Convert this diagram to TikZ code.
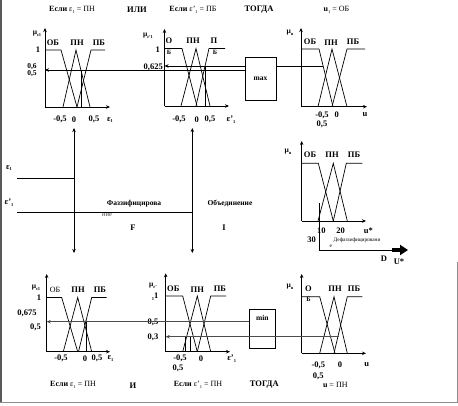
\documentclass[tikz,border=0pt]{standalone}
\usepackage{fontspec}
\setmainfont{Liberation Serif}
\usetikzlibrary{arrows.meta}
\newcommand\sbs[1]{\raisebox{-0.5ex}{\fontsize{4.5}{5}\selectfont #1}}
\begin{document}
\begin{tikzpicture}[x=1pt,y=-1pt,
  lbl/.style={font=\bfseries\fontsize{8.5}{9}\selectfont, inner sep=0pt},
  sml/.style={font=\bfseries\fontsize{7.5}{8}\selectfont, inner sep=0pt},
  reg/.style={font=\fontsize{8}{9}\selectfont, inner sep=0pt},
  tiny/.style={font=\fontsize{5.3}{6}\selectfont, inner sep=0pt},
  axis/.style={line width=0.8pt, -{Stealth[length=4pt,width=3.5pt]}},
  mf/.style={line width=0.7pt},
  conn/.style={line width=0.8pt},
  gconn/.style={line width=1.5pt, draw=black!70},
  tip/.style={-{Stealth[length=4pt,width=3.5pt]}},
  opbox/.style={draw, line width=0.8pt, inner sep=0pt}
]
\useasboundingbox (0,0) rectangle (458,405);
% frame
\draw[black!65, line width=2pt] (1,0) -- (1,403);
\draw[black!45, line width=1pt] (0,402.5) -- (458,402.5);
\draw[black!45, line width=1pt] (457.5,262) -- (457.5,403);

% ---------- top titles
\node[reg] (t1) at (72,10) {\textbf{Если} ε\sbs{1} = ПН};
\node[lbl] (t2) at (137,9.5) {ИЛИ};
\node[reg] (t3) at (193,10) {\textbf{Если} ε'\sbs{1} = ПБ};
\node[lbl] (t4) at (259,10) {ТОГДА};
\node[reg] (t5) at (336.5,10) {\textbf{u}\sbs{1} = ОБ};

% ---------- graph 1
\draw[axis] (45,107) -- (45,28);
\draw[axis] (45,107) -- (110,107);
\draw[mf] (45,50) -- (61,50) -- (77,107);
\draw[mf] (63,107) -- (76,50) -- (90,107);
\draw[mf] (77,107) -- (91,50) -- (105,50);
\draw[mf] (81.5,107) -- (81.5,70);
\node[sml] (g1mu) at (37,34) {μ\sbs{ε1}};
\node[lbl] (g1ob) at (53,43) {ОБ};
\node[lbl] (g1pn) at (77,43) {ПН};
\node[lbl] (g1pb) at (99,43) {ПБ};
\node[lbl] (g1one) at (38,50) {1};
\node[sml] (g1l6) at (32,66.2) {0,6};
\node[sml] (g1l5) at (32,73.8) {0,5};
\node[lbl] (g1x1) at (60,119.5) {-0,5};
\node[lbl] (g1x2) at (74,119.5) {0};
\node[lbl] (g1x3) at (94,119.5) {0,5};
\node[lbl] (g1x4) at (110,120) {ε\sbs{1}};
\coordinate (g1a) at (45,70);

% ---------- graph 2
\draw[axis] (164.5,106) -- (164.5,29);
\draw[axis] (164.5,106) -- (229,106);
\draw[mf] (164.5,48.5) -- (182,48.5) -- (197,106);
\draw[mf] (181,106) -- (196,48.5) -- (210,106);
\draw[mf] (196,106) -- (209,48.5) -- (225,48.5);
\draw[mf] (205,106) -- (205,66);
\node[sml] (g2mu) at (148,36) {μ\sbs{ε'1}};
\node[lbl] (g2one) at (157.7,49.5) {1};
\node[lbl] (g2o) at (169,41) {О};
\node[lbl,font=\bfseries\fontsize{6.5}{7}\selectfont] (g2b) at (169,52) {Б};
\node[lbl] (g2pn) at (193,41) {ПН};
\node[lbl] (g2p) at (214,41) {П};
\node[lbl,font=\bfseries\fontsize{6.5}{7}\selectfont] (g2b2) at (215,52) {Б};
\node[lbl,anchor=east] (g2l) at (163,67.3) {0,625};
\node[lbl] (g2x1) at (179,119.3) {-0,5};
\node[lbl] (g2x2) at (196.7,119.3) {0};
\node[lbl] (g2x3) at (210,119.3) {0,5};
\node[lbl] (g2x4) at (231,119.3) {ε'\sbs{1}};
\coordinate (g2a) at (164.5,66);

% ---------- max box
\node[opbox, minimum width=31pt, minimum height=43.7pt, font=\bfseries\fontsize{7.5}{8}\selectfont] (maxb) at (260.5,78.8) {max};

% ---------- graph 3
\draw[axis] (301,106.7) -- (301,28);
\draw[axis] (301,106.7) -- (367,106.7);
\draw[mf] (301,49) -- (319,49) -- (333,106.7);
\draw[mf] (318,106.7) -- (332,49) -- (347,106.7);
\draw[mf] (332,106.7) -- (347,49) -- (365,49);
\node[sml] (g3mu) at (290,33) {μ\sbs{u}};
\node[lbl] (g3ob) at (310,41.7) {ОБ};
\node[lbl] (g3pn) at (331,43) {ПН};
\node[lbl] (g3pb) at (353,41.7) {ПБ};
\node[lbl] (g3x1) at (322,115) {-0,5};
\node[lbl] (g3x2) at (336.7,115) {0};
\node[lbl] (g3x3) at (365,115) {u};
\node[lbl] (g3x4) at (322,124) {0,5};
\coordinate (g3a) at (323,66);

% top connectors
\draw[conn,tip] (maxb.west |- g1a) -- (g1a);
\draw[conn,tip] (maxb.west |- g2a) -- (g2a);
\draw[conn] (maxb.east |- g3a) -- (g3a);

% ---------- middle
\coordinate (in1t) at (74,128);
\coordinate (in1b) at (74,253);
\coordinate (in2t) at (192.3,128);
\coordinate (in2b) at (192.3,253);
\draw[conn,{Stealth[length=4pt,width=3.5pt]}-{Stealth[length=4pt,width=3.5pt]}] (in1t) -- (in1b);
\draw[conn,{Stealth[length=4pt,width=3.5pt]}-{Stealth[length=4pt,width=3.5pt]}] (in2t) -- (in2b);
\coordinate (e1) at (17,178.3);
\coordinate (e2) at (17,212.7);
\draw[conn] (e1) -- (in1t |- e1);
\draw[conn] (e2) -- (in2t |- e2);
\node[lbl] (e1l) at (9,168) {ε\sbs{1}};
\node[lbl] (e2l) at (9,203) {ε'\sbs{1}};
\node[sml] (fz) at (134,203.3) {Фаззифицирова};
\node[reg,font=\fontsize{6.5}{7}\selectfont,text=black!70,anchor=west] (fz2) at (102,215) {ние};
\node[lbl] (fF) at (133,228) {F};
\node[sml] (ob) at (230,203) {Объединение};
\node[lbl] (oI) at (224,228) {I};

% ---------- graph 4
\draw[axis] (301.7,221) -- (301.7,141);
\draw[axis] (301.7,221) -- (366,221);
\draw[mf] (301.7,163.3) -- (318.3,163.3) -- (333.3,221);
\draw[mf] (318,221) -- (333.3,163.3) -- (347.3,221);
\draw[mf] (333.3,221) -- (346.3,163.3) -- (362.3,163.3);
\node[sml] (g4mu) at (288,152) {μ\sbs{u}};
\node[lbl] (g4ob) at (310,155) {ОБ};
\node[lbl] (g4pn) at (332,155) {ПН};
\node[lbl] (g4pb) at (354,155) {ПБ};
\node[lbl] (g4x1) at (321.3,230.7) {10};
\node[lbl] (g4x2) at (340.7,230.7) {20};
\node[lbl] (g4x3) at (368.3,230.7) {u*};
\node[lbl] (g4x4) at (311.7,239.3) {30};
\node[tiny] (dfz) at (357,240) {Дефаззифицировани};
\node[tiny] (dfz2) at (330.7,246.5) {е};
\node[lbl] (dD) at (384,258.3) {D};
\node[lbl] (dU) at (399,261.7) {U*};
\coordinate (dv) at (319,203.3);
\coordinate (dc) at (319,250);
\coordinate (da) at (392,250);
\coordinate (de) at (408,250);
\draw[conn] (dv) -- (dc) -- (da);
\draw[line width=4pt,-{Triangle[length=8pt,width=10pt]}] (da) -- (de);

% ---------- graph 5
\draw[axis] (46.7,351.7) -- (46.7,274);
\draw[axis] (46.7,351.7) -- (110,351.7);
\draw[mf] (46.7,297.5) -- (61.7,297.5) -- (77.7,351.7);
\draw[mf] (63.3,351.7) -- (77.7,297.5) -- (91.7,351.7);
\draw[mf] (78.5,351.7) -- (91.7,297.5) -- (106.7,297.5);
\draw[mf] (86,351.7) -- (86,321.7);
\node[sml] (g5mu) at (36,288) {μ\sbs{ε1}};
\node[lbl] (g5one) at (39,298) {1};
\node[lbl] (g5l1) at (27,313) {0,675};
\node[lbl] (g5l2) at (35.5,327) {0,5};
\node[reg] (g5ob) at (55,290) {ОБ};
\node[lbl] (g5pn) at (78,290) {ПН};
\node[lbl] (g5pb) at (100,290) {ПБ};
\node[lbl] (g5x1) at (61,358.5) {-0,5};
\node[lbl] (g5x2) at (85,358.5) {0};
\node[lbl] (g5x3) at (97,358.5) {0,5};
\node[lbl] (g5x4) at (110.5,358.5) {ε\sbs{1}};
\coordinate (g5a) at (46.7,321.7);
\fill (86,321.7) circle (1.4pt);

% ---------- graph 6
\draw[axis] (165.7,351.7) -- (165.7,273.3);
\draw[axis] (165.7,351.7) -- (230,351.7);
\draw[mf] (165.7,296) -- (182.7,296) -- (197.3,351.7);
\draw[mf] (182.7,351.7) -- (197.3,296) -- (210.7,351.7);
\draw[mf] (197.3,351.7) -- (210.7,296) -- (226,296);
\draw[mf] (185.7,351.7) -- (185.7,336.7);
\draw[mf] (190,351.7) -- (190,336.7);
\node[sml] (g6mu) at (153,286) {μ\sbs{ε'}};
\node[lbl] (g6one) at (155,296.5) {\sbs{1}1};
\node[lbl] (g6ob) at (173.3,288.3) {ОБ};
\node[lbl] (g6pn) at (197.3,290) {ПН};
\node[lbl] (g6pb) at (220,288.3) {ПБ};
\node[lbl] (g6l1) at (153,322.3) {0,5};
\node[lbl] (g6l2) at (153,337) {0,3};
\node[lbl] (g6x1) at (180,358.3) {-0,5};
\node[lbl] (g6x2) at (201,358.3) {0};
\node[lbl] (g6x3) at (231.7,358.3) {ε'\sbs{1}};
\node[lbl] (g6x4) at (178,368.7) {0,5};
\coordinate (g6a) at (165.7,336.7);

% ---------- min box
\node[opbox, minimum width=25.3pt, minimum height=39pt,
  label={[sml,anchor=north,yshift=-6pt]north:min}] (minb) at (262.4,328.8) {};

% ---------- graph 7
\draw[axis] (301.7,353.3) -- (301.7,274);
\draw[axis] (301.7,353.3) -- (366,353.3);
\draw[mf] (301.7,296.7) -- (319.7,296.7) -- (335,353.3);
\draw[mf] (319.7,353.3) -- (334,296.7) -- (347.3,353.3);
\draw[mf] (334,353.3) -- (347.3,296.7) -- (362.3,296.7);
\node[sml] (g7mu) at (290,287) {μ\sbs{u}};
\node[lbl] (g7o) at (308.5,289) {О};
\node[lbl,font=\bfseries\fontsize{6.5}{7}\selectfont] (g7b) at (308.5,299.3) {Б};
\node[lbl] (g7pn) at (335,289) {ПН};
\node[lbl] (g7pb) at (354,289) {ПБ};
\node[lbl] (g7x1) at (318.3,365) {-0,5};
\node[lbl] (g7x2) at (340,365) {0};
\node[lbl] (g7x3) at (366.7,365) {u};
\node[lbl] (g7x4) at (318.3,376) {0,5};
\coordinate (g7a) at (339,336.7);

% bottom connectors
\draw[gconn,tip] (minb.west |- g5a) -- (g5a);
\draw[gconn,tip] (g7a) -- (g6a);

% bottom titles
\node[reg] (b1) at (73,385) {\textbf{Если} ε\sbs{1} = ПН};
\node[lbl] (b2) at (133,385.7) {И};
\node[reg] (b3) at (198,385) {\textbf{Если} ε'\sbs{1} = ПН};
\node[lbl] (b4) at (264.3,385) {ТОГДА};
\node[reg] (b5) at (335.3,385) {\textbf{u} = ПН};
\end{tikzpicture}
\end{document}
